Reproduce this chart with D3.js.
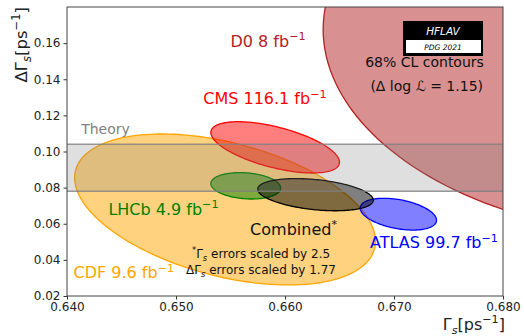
<!DOCTYPE html>
<html>
<head>
<meta charset="utf-8">
<script src="https://cdn.jsdelivr.net/npm/d3@7"></script>
<style>
  body { margin: 0; background: #fff; }
  svg { display: block; font-family: "DejaVu Sans", sans-serif; }
</style>
</head>
<body>
<div id="chart"></div>
<script>
// 68% CL contours: centre and half extents of each ellipse
const experiments = ["D0", "CDF", "CMS", "LHCb", "ATLAS", "Combined"];
const lumi = ["8", "9.6", "116.1", "4.9", "99.7", ""];
const gammaS = [0.6930, 0.6545, 0.6591, 0.6564, 0.6704, 0.6628];
const gammaSHalf = [0.0295, 0.0138, 0.0059, 0.0032, 0.0035, 0.0053];
const deltaGamma = [0.1601, 0.0679, 0.1023, 0.0810, 0.0653, 0.0761];
const deltaGammaHalf = [0.1066, 0.0418, 0.0142, 0.0073, 0.0088, 0.0089];
const corr = [-0.07, -0.42, -0.58, -0.17, -0.38, -0.34];
const colors = ["firebrick", "orange", "red", "green", "blue", "black"];

// SM prediction band
const theoryLow = 0.078;
const theoryHigh = 0.104;

const xTicks = [0.640, 0.650, 0.660, 0.670, 0.680];
const yTicks = [0.02, 0.04, 0.06, 0.08, 0.10, 0.12, 0.14, 0.16];

const W = 524, H = 336;
const margin = { top: 7, right: 21, bottom: 40, left: 67 };
const iw = W - margin.left - margin.right;
const ih = H - margin.top - margin.bottom;

const x = d3.scaleLinear().domain([0.640, 0.680]).range([0, iw]);
const y = d3.scaleLinear().domain([0.02, 0.18]).range([ih, 0]);

const svg = d3.select("#chart").append("svg")
  .attr("width", W)
  .attr("height", H);

const g = svg.append("g")
  .attr("transform", `translate(${margin.left},${margin.top})`);

g.append("clipPath").attr("id", "plotclip")
  .append("rect").attr("width", iw).attr("height", ih);

// writes text made of pieces, some of them sub- or superscript
function rich(sel, segs, fs) {
  let shift = 0;
  segs.forEach(s => {
    const target = s.sup ? -0.42 * fs : s.sub ? 0.22 * fs : 0;
    const ts = sel.append("tspan").text(s.t)
      .attr("dy", (target - shift) + "px")
      .attr("font-size", (s.sup || s.sub) ? fs * 0.7 : fs);
    if (s.italic) ts.attr("font-style", "italic");
    shift = target;
  });
  return sel;
}

const plot = g.append("g").attr("clip-path", "url(#plotclip)");

function ellipse(i) {
  const s = Math.sqrt(1 - corr[i] * corr[i]);
  return d3.range(0, 360, 2).map(deg => {
    const t = deg * Math.PI / 180;
    return [gammaS[i] + gammaSHalf[i] * Math.cos(t),
            deltaGamma[i] + deltaGammaHalf[i] * (corr[i] * Math.cos(t) + s * Math.sin(t))];
  });
}

const line = d3.line()
  .x(d => x(d[0]))
  .y(d => y(d[1]))
  .curve(d3.curveLinearClosed);

plot.selectAll(".contour")
  .data(experiments)
  .enter().append("path")
  .attr("class", "contour")
  .attr("d", (d, i) => line(ellipse(i)))
  .attr("fill", (d, i) => colors[i])
  .attr("fill-opacity", 0.5)
  .attr("stroke", (d, i) => colors[i])
  .attr("stroke-width", 1.3);

// theory band on top
plot.append("rect")
  .attr("x", 0)
  .attr("width", iw)
  .attr("y", y(theoryHigh))
  .attr("height", y(theoryLow) - y(theoryHigh))
  .attr("fill", "gray")
  .attr("fill-opacity", 0.25);

plot.selectAll(".tline")
  .data([theoryLow, theoryHigh])
  .enter().append("line")
  .attr("x1", 0).attr("x2", iw)
  .attr("y1", d => y(d)).attr("y2", d => y(d))
  .attr("stroke", "gray")
  .attr("stroke-opacity", 0.8)
  .attr("stroke-width", 1.5);

// axes
const xAxis = g.append("g")
  .attr("transform", `translate(0,${ih})`)
  .call(d3.axisBottom(x).tickValues(xTicks).tickFormat(d3.format(".3f")).tickSize(3.5).tickPadding(3));
const yAxis = g.append("g")
  .call(d3.axisLeft(y).tickValues(yTicks).tickFormat(d3.format(".2f")).tickSize(3.5).tickPadding(3));
[xAxis, yAxis].forEach(a => {
  a.select(".domain").remove();
  a.selectAll("text").attr("font-size", 12).attr("fill", "#222").attr("font-family", "DejaVu Sans, sans-serif");
  a.selectAll("line").attr("stroke", "#333");
});

g.append("rect")
  .attr("width", iw).attr("height", ih)
  .attr("fill", "none")
  .attr("stroke", "#444")
  .attr("stroke-width", 1);

// axis titles
rich(svg.append("text")
  .attr("x", margin.left + iw + 2).attr("y", 330)
  .attr("text-anchor", "end").attr("fill", "#222"),
  [{ t: "Γ" }, { t: "s", sub: true, italic: true }, { t: "[ps" }, { t: "−1", sup: true }, { t: "]" }], 16);

rich(svg.append("text")
  .attr("transform", `translate(27,${margin.top}) rotate(-90)`)
  .attr("text-anchor", "end").attr("fill", "#222"),
  [{ t: "ΔΓ" }, { t: "s", sub: true, italic: true }, { t: "[ps" }, { t: "−1", sup: true }, { t: "]" }], 16.5);

// experiment labels, placed in data coordinates
const labelPos = {
  D0: [0.6550, 0.1580],
  CDF: [0.6406, 0.0298],
  CMS: [0.6525, 0.1261],
  LHCb: [0.6438, 0.0649],
  ATLAS: [0.6678, 0.0464]
};
experiments.forEach((name, i) => {
  if (!labelPos[name]) return;
  const p = labelPos[name];
  rich(g.append("text")
    .attr("x", x(p[0])).attr("y", y(p[1]))
    .attr("fill", colors[i]),
    [{ t: `${name} ${lumi[i]} fb` }, { t: "−1", sup: true }], 16);
});

rich(g.append("text")
  .attr("x", x(0.6568)).attr("y", y(0.0538))
  .attr("fill", "#111"),
  [{ t: "Combined" }, { t: "*", sup: true }], 16);

rich(g.append("text")
  .attr("x", x(0.6578)).attr("y", y(0.0409))
  .attr("text-anchor", "middle").attr("fill", "#111"),
  [{ t: "*", sup: true }, { t: "Γ" }, { t: "s", sub: true, italic: true }, { t: " errors scaled by 2.5" }], 12);

rich(g.append("text")
  .attr("x", x(0.6578)).attr("y", y(0.0322))
  .attr("text-anchor", "middle").attr("fill", "#111"),
  [{ t: "ΔΓ" }, { t: "s", sub: true, italic: true }, { t: " errors scaled by 1.77" }], 12);

g.append("text")
  .attr("x", x(0.6413)).attr("y", y(0.1095))
  .attr("fill", "gray").attr("font-size", 14)
  .text("Theory");

g.append("text")
  .attr("x", x(0.6728)).attr("y", y(0.1470))
  .attr("text-anchor", "middle").attr("fill", "#111").attr("font-size", 14)
  .text("68% CL contours");

g.append("text")
  .attr("x", x(0.6730)).attr("y", y(0.1337))
  .attr("text-anchor", "middle").attr("fill", "#111").attr("font-size", 14)
  .text("(Δ log ℒ = 1.15)");

// HFLAV badge
const badge = g.append("g").attr("transform", `translate(${iw - 100},14)`);
badge.append("rect").attr("width", 80).attr("height", 35).attr("fill", "#000");
badge.append("rect").attr("x", 3).attr("y", 19).attr("width", 75).attr("height", 13).attr("fill", "#fff");
badge.append("text").attr("x", 40).attr("y", 13.5)
  .attr("text-anchor", "middle").attr("fill", "#fff")
  .attr("font-size", 10.5).attr("font-style", "italic")
  .text("HFLAV");
badge.append("text").attr("x", 40).attr("y", 29)
  .attr("text-anchor", "middle").attr("fill", "#000")
  .attr("font-size", 7.5).attr("font-style", "italic")
  .text("PDG 2021");
</script>
</body>
</html>
